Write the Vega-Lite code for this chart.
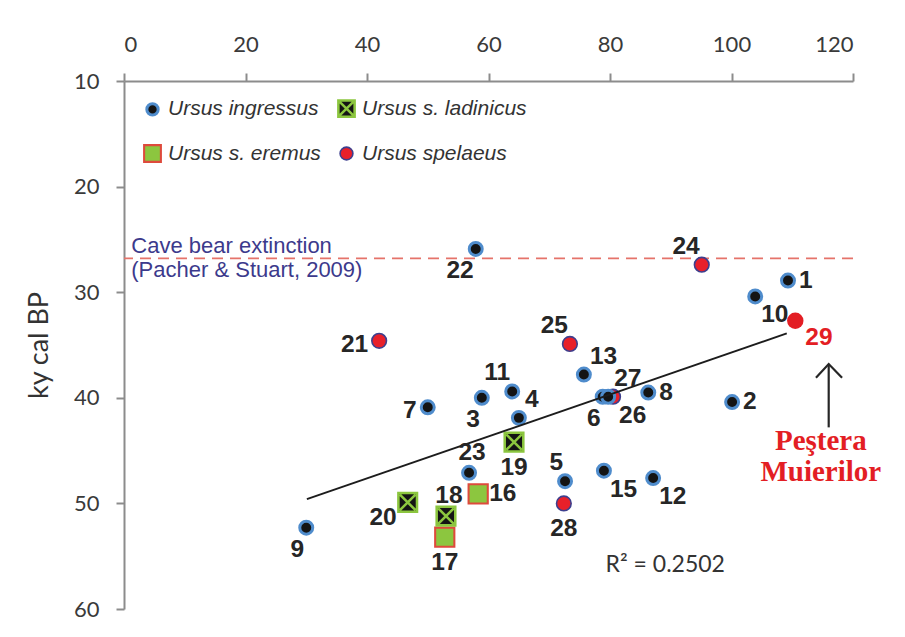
{
  "$schema": "https://vega.github.io/schema/vega-lite/v6.json",
  "width": 729,
  "height": 528,
  "autosize": {"type": "none"},
  "padding": {"left": 124, "top": 81, "right": 52, "bottom": 28},
  "background": "white",
  "config": {
    "view": {"stroke": null},
    "axis": {
      "domainColor": "#8c8c8c",
      "domainWidth": 2,
      "tickColor": "#8c8c8c",
      "tickWidth": 2,
      "tickSize": 8,
      "grid": false,
      "labelFont": "Lato",
      "labelFontSize": 22,
      "labelColor": "#3a3a3a",
      "titleFont": "Lato",
      "titleFontSize": 27,
      "titleFontWeight": "normal",
      "titleColor": "#333333"
    },
    "legend": {
      "orient": "none",
      "legendX": 18,
      "legendY": 17,
      "direction": "horizontal",
      "columns": 2,
      "padding": 0,
      "labelFont": "Liberation Sans",
      "labelFontStyle": "italic",
      "labelFontSize": 21,
      "labelColor": "#333333",
      "labelLimit": 400,
      "labelOffset": 5,
      "rowPadding": 18,
      "columnPadding": 12,
      "symbolSize": 110
    }
  },
  "datasets": {
    "bears": [
      {"id": 21, "sp": "Ursus spelaeus", "x": 42.0, "age": 34.6},
      {"id": 24, "sp": "Ursus spelaeus", "x": 95.1, "age": 27.4},
      {"id": 25, "sp": "Ursus spelaeus", "x": 73.4, "age": 34.9},
      {"id": 26, "sp": "Ursus spelaeus", "x": 80.5, "age": 39.9},
      {"id": 28, "sp": "Ursus spelaeus", "x": 72.4, "age": 50.0},
      {"id": 1, "sp": "Ursus ingressus", "x": 109.3, "age": 28.9},
      {"id": 2, "sp": "Ursus ingressus", "x": 100.1, "age": 40.4},
      {"id": 3, "sp": "Ursus ingressus", "x": 58.9, "age": 40.0},
      {"id": 4, "sp": "Ursus ingressus", "x": 65.0, "age": 41.9},
      {"id": 5, "sp": "Ursus ingressus", "x": 72.6, "age": 47.9},
      {"id": 6, "sp": "Ursus ingressus", "x": 78.8, "age": 39.9},
      {"id": 7, "sp": "Ursus ingressus", "x": 50.0, "age": 40.9},
      {"id": 8, "sp": "Ursus ingressus", "x": 86.3, "age": 39.5},
      {"id": 9, "sp": "Ursus ingressus", "x": 30.0, "age": 52.3},
      {"id": 10, "sp": "Ursus ingressus", "x": 103.9, "age": 30.4},
      {"id": 11, "sp": "Ursus ingressus", "x": 63.9, "age": 39.4},
      {"id": 12, "sp": "Ursus ingressus", "x": 87.1, "age": 47.6},
      {"id": 13, "sp": "Ursus ingressus", "x": 75.7, "age": 37.8},
      {"id": 15, "sp": "Ursus ingressus", "x": 79.0, "age": 46.9},
      {"id": 22, "sp": "Ursus ingressus", "x": 57.9, "age": 25.9},
      {"id": 23, "sp": "Ursus ingressus", "x": 56.8, "age": 47.1},
      {"id": 27, "sp": "Ursus ingressus", "x": 79.7, "age": 39.9},
      {"id": 16, "sp": "Ursus s. eremus", "x": 58.3, "age": 49.1},
      {"id": 17, "sp": "Ursus s. eremus", "x": 52.8, "age": 53.2},
      {"id": 18, "sp": "Ursus s. ladinicus", "x": 53.0, "age": 51.2},
      {"id": 19, "sp": "Ursus s. ladinicus", "x": 64.2, "age": 44.2},
      {"id": 20, "sp": "Ursus s. ladinicus", "x": 46.7, "age": 49.9},
      {"id": 29, "sp": "Ursus spelaeus", "site": "Peştera Muierilor", "x": 110.5, "age": 32.7}
    ],
    "trend": [
      {"x": 30.1, "age": 49.6},
      {"x": 109.1, "age": 33.9}
    ],
    "extinction": [
      {"age": 26.8}
    ],
    "arrow": [
      {"part": "shaft", "x": 116.0, "age": 42.8},
      {"part": "shaft", "x": 116.0, "age": 36.8},
      {"part": "head", "x": 113.9, "age": 38.1},
      {"part": "head", "x": 116.0, "age": 36.8},
      {"part": "head", "x": 118.2, "age": 38.1}
    ],
    "notes": [
      {"kind": "ext", "text": "Cave bear extinction", "x": 1.2, "age": 25.6},
      {"kind": "ext", "text": "(Pacher & Stuart, 2009)", "x": 1.2, "age": 27.9},
      {"kind": "r2", "text": "R² = 0.2502", "x": 89.1, "age": 55.8},
      {"kind": "site", "text": "Peştera", "x": 114.7, "age": 44.1},
      {"kind": "site", "text": "Muierilor", "x": 114.7, "age": 47.0}
    ]
  },
  "layer": [
    {
      "data": {"name": "extinction"},
      "mark": {"type": "rule", "color": "#e5736a", "strokeWidth": 1.6, "strokeDash": [11, 7]},
      "encoding": {
        "y": {
          "field": "age",
          "type": "quantitative",
          "scale": {"domain": [10, 60], "reverse": true, "nice": false, "zero": false},
          "axis": {"orient": "left", "values": [10, 20, 30, 40, 50, 60], "title": "ky cal BP", "titlePadding": 20, "labelPadding": 17}
        }
      }
    },
    {
      "data": {"name": "bears"},
      "transform": [{"filter": "!datum.site"}],
      "mark": {"type": "point", "filled": true, "opacity": 1, "size": 144},
      "encoding": {
        "x": {
          "field": "x",
          "type": "quantitative",
          "scale": {"domain": [0, 120], "nice": false, "zero": false},
          "axis": {"orient": "top", "values": [0, 20, 40, 60, 80, 100, 120], "title": null, "labelPadding": 17}
        },
        "y": {"field": "age", "type": "quantitative", "scale": {"domain": [10, 60], "reverse": true, "nice": false, "zero": false}, "title": "ky cal BP"},
        "shape": {
          "field": "sp", "type": "nominal", "title": null,
          "scale": {
            "domain": ["Ursus ingressus", "Ursus s. ladinicus", "Ursus s. eremus", "Ursus spelaeus"],
            "range": [
              "M1.08,0A1.08,1.08,0,1,1,-1.08,0A1.08,1.08,0,1,1,1.08,0Z",
              "M-1.55,-1.55H1.55V1.55H-1.55Z M-1.3,-1.3L1.3,1.3 M1.3,-1.3L-1.3,1.3",
              "M-1.6,-1.6H1.6V1.6H-1.6Z",
              "M1.22,0A1.22,1.22,0,1,1,-1.22,0A1.22,1.22,0,1,1,1.22,0Z"
            ]
          }
        },
        "fill": {
          "field": "sp", "type": "nominal", "title": null,
          "scale": {
            "domain": ["Ursus ingressus", "Ursus s. ladinicus", "Ursus s. eremus", "Ursus spelaeus"],
            "range": ["#141414", "#141414", "#8cc63f", "#e8202a"]
          }
        },
        "stroke": {
          "field": "sp", "type": "nominal", "title": null,
          "scale": {
            "domain": ["Ursus ingressus", "Ursus s. ladinicus", "Ursus s. eremus", "Ursus spelaeus"],
            "range": ["#4f8ccc", "#8cc63f", "#de4a3c", "#3d3f8e"]
          }
        },
        "strokeWidth": {
          "field": "sp", "type": "nominal", "title": null,
          "scale": {
            "domain": ["Ursus ingressus", "Ursus s. ladinicus", "Ursus s. eremus", "Ursus spelaeus"],
            "range": [3, 1.6, 2, 2]
          }
        }
      }
    },
    {
      "data": {"name": "bears"},
      "transform": [{"filter": "datum.site"}],
      "mark": {"type": "point", "filled": true, "opacity": 1, "shape": "circle", "size": 270, "color": "#e31e24"},
      "encoding": {
        "x": {"field": "x", "type": "quantitative"},
        "y": {"field": "age", "type": "quantitative"}
      }
    },
    {
      "data": {"name": "trend"},
      "mark": {"type": "line", "color": "#1c1c1c", "strokeWidth": 2},
      "encoding": {
        "x": {"field": "x", "type": "quantitative"},
        "y": {"field": "age", "type": "quantitative"}
      }
    },
    {
      "data": {"name": "arrow"},
      "mark": {"type": "line", "color": "#262626", "strokeWidth": 2.2},
      "encoding": {
        "x": {"field": "x", "type": "quantitative"},
        "y": {"field": "age", "type": "quantitative"},
        "detail": {"field": "part"}
      }
    },
    {
      "data": {"name": "bears"},
      "transform": [{"filter": {"field": "id", "oneOf": [1, 2, 8, 16]}}],
      "mark": {"type": "text", "align": "left", "baseline": "middle", "dx": 11, "dy": 0, "font": "Liberation Sans", "fontWeight": "bold", "fontSize": 24.5, "color": "#262626"},
      "encoding": {"x": {"field": "x", "type": "quantitative"}, "y": {"field": "age", "type": "quantitative"}, "text": {"field": "id"}}
    },
    {
      "data": {"name": "bears"},
      "transform": [{"filter": {"field": "id", "oneOf": [7, 21]}}],
      "mark": {"type": "text", "align": "right", "baseline": "middle", "dx": -11, "dy": 4, "font": "Liberation Sans", "fontWeight": "bold", "fontSize": 24.5, "color": "#262626"},
      "encoding": {"x": {"field": "x", "type": "quantitative"}, "y": {"field": "age", "type": "quantitative"}, "text": {"field": "id"}}
    },
    {
      "data": {"name": "bears"},
      "transform": [{"filter": {"field": "id", "oneOf": [20]}}],
      "mark": {"type": "text", "align": "right", "baseline": "middle", "dx": -11, "dy": 16, "font": "Liberation Sans", "fontWeight": "bold", "fontSize": 24.5, "color": "#262626"},
      "encoding": {"x": {"field": "x", "type": "quantitative"}, "y": {"field": "age", "type": "quantitative"}, "text": {"field": "id"}}
    },
    {
      "data": {"name": "bears"},
      "transform": [{"filter": {"field": "id", "oneOf": [3, 6, 9, 22]}}],
      "mark": {"type": "text", "align": "right", "baseline": "middle", "dx": -2, "dy": 22, "font": "Liberation Sans", "fontWeight": "bold", "fontSize": 24.5, "color": "#262626"},
      "encoding": {"x": {"field": "x", "type": "quantitative"}, "y": {"field": "age", "type": "quantitative"}, "text": {"field": "id"}}
    },
    {
      "data": {"name": "bears"},
      "transform": [{"filter": {"field": "id", "oneOf": [17, 19, 28]}}],
      "mark": {"type": "text", "align": "center", "baseline": "middle", "dx": 0, "dy": 26, "font": "Liberation Sans", "fontWeight": "bold", "fontSize": 24.5, "color": "#262626"},
      "encoding": {"x": {"field": "x", "type": "quantitative"}, "y": {"field": "age", "type": "quantitative"}, "text": {"field": "id"}}
    },
    {
      "data": {"name": "bears"},
      "transform": [{"filter": {"field": "id", "oneOf": [18, 23]}}],
      "mark": {"type": "text", "align": "center", "baseline": "middle", "dx": 3, "dy": -20, "font": "Liberation Sans", "fontWeight": "bold", "fontSize": 24.5, "color": "#262626"},
      "encoding": {"x": {"field": "x", "type": "quantitative"}, "y": {"field": "age", "type": "quantitative"}, "text": {"field": "id"}}
    },
    {
      "data": {"name": "bears"},
      "transform": [{"filter": {"field": "id", "oneOf": [5, 11, 24, 25]}}],
      "mark": {"type": "text", "align": "right", "baseline": "middle", "dx": -2, "dy": -18, "font": "Liberation Sans", "fontWeight": "bold", "fontSize": 24.5, "color": "#262626"},
      "encoding": {"x": {"field": "x", "type": "quantitative"}, "y": {"field": "age", "type": "quantitative"}, "text": {"field": "id"}}
    },
    {
      "data": {"name": "bears"},
      "transform": [{"filter": {"field": "id", "oneOf": [4, 13, 27]}}],
      "mark": {"type": "text", "align": "left", "baseline": "middle", "dx": 6, "dy": -18, "font": "Liberation Sans", "fontWeight": "bold", "fontSize": 24.5, "color": "#262626"},
      "encoding": {"x": {"field": "x", "type": "quantitative"}, "y": {"field": "age", "type": "quantitative"}, "text": {"field": "id"}}
    },
    {
      "data": {"name": "bears"},
      "transform": [{"filter": {"field": "id", "oneOf": [10, 12, 15, 26]}}],
      "mark": {"type": "text", "align": "left", "baseline": "middle", "dx": 6, "dy": 19, "font": "Liberation Sans", "fontWeight": "bold", "fontSize": 24.5, "color": "#262626"},
      "encoding": {"x": {"field": "x", "type": "quantitative"}, "y": {"field": "age", "type": "quantitative"}, "text": {"field": "id"}}
    },
    {
      "data": {"name": "bears"},
      "transform": [{"filter": "datum.site"}],
      "mark": {"type": "text", "align": "left", "baseline": "middle", "dx": 10, "dy": 17, "font": "Liberation Sans", "fontWeight": "bold", "fontSize": 24.5, "color": "#e31e24"},
      "encoding": {"x": {"field": "x", "type": "quantitative"}, "y": {"field": "age", "type": "quantitative"}, "text": {"field": "id"}}
    },
    {
      "data": {"name": "notes"},
      "transform": [{"filter": "datum.kind === 'ext'"}],
      "mark": {"type": "text", "align": "left", "baseline": "middle", "font": "Liberation Sans", "fontSize": 22, "color": "#3c3a8c"},
      "encoding": {"x": {"field": "x", "type": "quantitative"}, "y": {"field": "age", "type": "quantitative"}, "text": {"field": "text"}}
    },
    {
      "data": {"name": "notes"},
      "transform": [{"filter": "datum.kind === 'r2'"}],
      "mark": {"type": "text", "align": "center", "baseline": "middle", "font": "Lato", "fontSize": 23, "color": "#333333"},
      "encoding": {"x": {"field": "x", "type": "quantitative"}, "y": {"field": "age", "type": "quantitative"}, "text": {"field": "text"}}
    },
    {
      "data": {"name": "notes"},
      "transform": [{"filter": "datum.kind === 'site'"}],
      "mark": {"type": "text", "align": "center", "baseline": "middle", "font": "Liberation Serif", "fontWeight": "bold", "fontSize": 29, "color": "#e31e24"},
      "encoding": {"x": {"field": "x", "type": "quantitative"}, "y": {"field": "age", "type": "quantitative"}, "text": {"field": "text"}}
    }
  ]
}
